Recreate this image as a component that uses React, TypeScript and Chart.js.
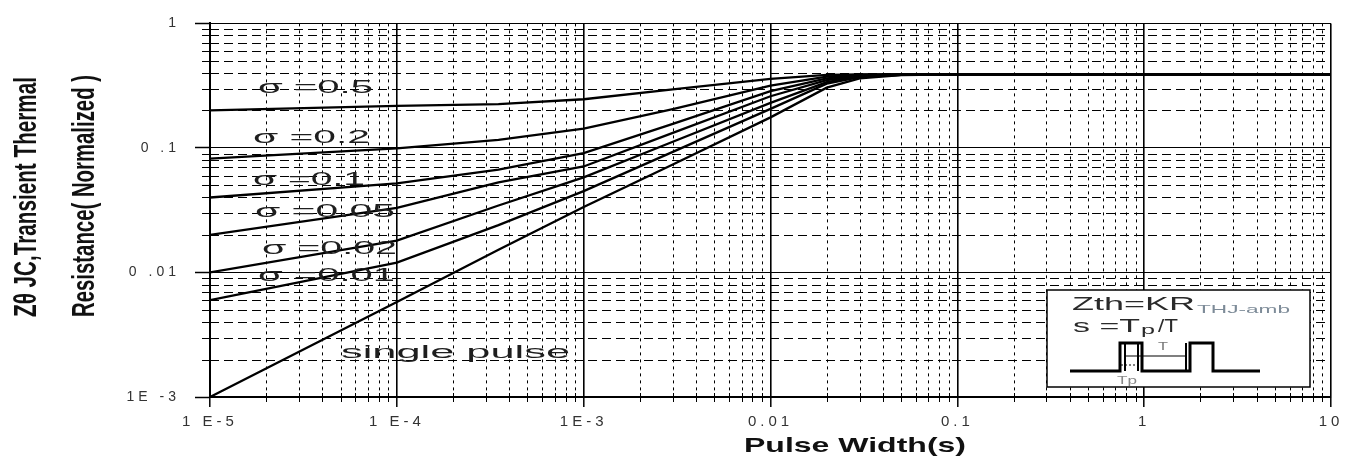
import React, { useEffect, useRef } from 'react';
import { Chart, registerables } from 'chart.js';

Chart.register(...registerables);

// ---------- data ----------
const pulseWidths = [1e-5, 1e-4, 3.5e-4, 1e-3, 3e-3, 1e-2, 2e-2, 3e-2, 5e-2, 1e-1, 1, 10];

const duty05 = [0.2, 0.218, 0.225, 0.246, 0.295, 0.358, 0.386, 0.39, 0.39, 0.39, 0.39, 0.39];
const duty02 = [0.082, 0.099, 0.116, 0.143, 0.205, 0.317, 0.374, 0.387, 0.39, 0.39, 0.39, 0.39];
const duty01 = [0.04, 0.052, 0.067, 0.091, 0.156, 0.286, 0.362, 0.383, 0.389, 0.39, 0.39, 0.39];
const duty005 = [0.02, 0.033, 0.053, 0.071, 0.132, 0.26, 0.35, 0.379, 0.388, 0.39, 0.39, 0.39];
const duty002 = [0.01, 0.018, 0.0345, 0.058, 0.112, 0.23, 0.338, 0.375, 0.387, 0.39, 0.39, 0.39];
const duty001 = [0.006, 0.012, 0.024, 0.045, 0.093, 0.206, 0.328, 0.37, 0.386, 0.39, 0.39, 0.39];
const singlePulse = [0.001, 0.0058, 0.0152, 0.0335, 0.0735, 0.176, 0.305, 0.362, 0.385, 0.39, 0.39, 0.39];

const seriesNames = ['σ =0.5', 'σ =0.2', 'σ =0.1', 'σ =0.05', 'σ =0.02', 'σ =0.01', 'single pulse'];
const seriesValues = [duty05, duty02, duty01, duty005, duty002, duty001, singlePulse];

const xTickValues = [1e-5, 1e-4, 1e-3, 1e-2, 1e-1, 1, 10];
const xTickLabels = ['1 E-5', '1 E-4', '1E-3', '0.01', '0.1', '1', '10'];
const yTickValues = [1e-3, 1e-2, 1e-1, 1];
const yTickLabels = ['1E -3', '0 .01', '0 .1', '1'];

const xTitle = 'Pulse Width(s)';
const yTitleLines = ['Zθ JC,Transient Thermal', 'Resistance( Normalized )'];

// ---------- layout of the annotation texts (pixels) ----------
const curveLabelBoxes = [
  { left: 258, cy: 88, w: 115 },
  { left: 253, cy: 138, w: 117 },
  { left: 253, cy: 180, w: 112 },
  { left: 255, cy: 212, w: 140 },
  { left: 262, cy: 249, w: 135 },
  { left: 258, cy: 276, w: 137 },
  { left: 341, cy: 353, w: 229 },
];

const FONT = '"Liberation Sans", Arial, sans-serif';

function fitText(
  ctx: CanvasRenderingContext2D,
  text: string,
  x: number,
  y: number,
  width: number,
  font: string,
  color: string,
  center = false,
  rotate = 0
) {
  ctx.save();
  ctx.letterSpacing = '0px';
  ctx.font = font;
  ctx.fillStyle = color;
  ctx.textBaseline = 'middle';
  ctx.textAlign = 'left';
  const w = ctx.measureText(text).width;
  const sx = width / w;
  ctx.translate(x, y);
  if (rotate) ctx.rotate(rotate);
  ctx.scale(sx, 1);
  ctx.fillText(text, center ? -w / 2 : 0, 0);
  ctx.restore();
}

const minorGridPlugin = {
  id: 'minorGrid',
  beforeDraw(chart: any) {
    chart.ctx.letterSpacing = '4px';
  },
  beforeDatasetsDraw(chart: any) {
    const ctx: CanvasRenderingContext2D = chart.ctx;
    const { left, right, top, bottom } = chart.chartArea;
    const xs = chart.scales.x;
    const ys = chart.scales.y;
    ctx.save();
    ctx.letterSpacing = '0px';
    ctx.strokeStyle = '#000';
    ctx.lineWidth = 1;
    // vertical minor (dotted)
    for (let e = -5; e < 1; e++) {
      for (let k = 2; k <= 9; k++) {
        const px = Math.round(xs.getPixelForValue(k * Math.pow(10, e))) + 0.5;
        ctx.setLineDash([3, 4]);
        ctx.beginPath();
        ctx.moveTo(px, top);
        ctx.lineTo(px, bottom);
        ctx.stroke();
        ctx.setLineDash([]);
        ctx.beginPath();
        ctx.moveTo(px, bottom - 4);
        ctx.lineTo(px, bottom + 5);
        ctx.stroke();
      }
    }
    // horizontal minor (dashed)
    for (let e = -3; e < 0; e++) {
      for (let k = 2; k <= 9; k++) {
        const py = Math.round(ys.getPixelForValue(k * Math.pow(10, e))) + 0.5;
        ctx.setLineDash([9, 5]);
        ctx.beginPath();
        ctx.moveTo(left, py);
        ctx.lineTo(right, py);
        ctx.stroke();
        ctx.setLineDash([]);
        ctx.beginPath();
        ctx.moveTo(left - 8, py);
        ctx.lineTo(left + 7, py);
        ctx.stroke();
      }
    }
    ctx.restore();
  },
  afterDatasetsDraw(chart: any) {
    const ctx: CanvasRenderingContext2D = chart.ctx;
    // curve labels
    seriesNames.forEach((name, i) => {
      const b = curveLabelBoxes[i];
      fitText(ctx, name, b.left, b.cy, b.w, `18px ${FONT}`, '#1e1e1e');
    });

    // legend box
    ctx.save();
    ctx.letterSpacing = '0px';
    ctx.fillStyle = '#fff';
    ctx.fillRect(1047, 290, 263, 97);
    ctx.strokeStyle = '#000';
    ctx.lineWidth = 1.5;
    ctx.strokeRect(1047, 290, 263, 97);
    ctx.restore();

    fitText(ctx, 'Zth=KR', 1072, 305, 123, `18px ${FONT}`, '#2a2a2a');
    fitText(ctx, 'THJ-amb', 1197, 310, 93, `11px ${FONT}`, '#7d8b98');
    fitText(ctx, 's =T', 1073, 327, 67, `18px ${FONT}`, '#2a2a2a');
    fitText(ctx, 'p', 1141, 331, 14, `12px ${FONT}`, '#2a2a2a');
    fitText(ctx, '/T', 1158, 327, 20, `18px ${FONT}`, '#2a2a2a');
    fitText(ctx, 'T', 1163, 347, 10, `10px ${FONT}`, '#777', true);
    fitText(ctx, 'Tp', 1127, 381, 20, `11px ${FONT}`, '#888', true);

    ctx.save();
    ctx.strokeStyle = '#000';
    ctx.lineWidth = 3;
    ctx.lineJoin = 'miter';
    ctx.beginPath();
    ctx.moveTo(1070, 371);
    ctx.lineTo(1120, 371);
    ctx.lineTo(1120, 343);
    ctx.lineTo(1142, 343);
    ctx.lineTo(1142, 371);
    ctx.lineTo(1190, 371);
    ctx.lineTo(1190, 343);
    ctx.lineTo(1213, 343);
    ctx.lineTo(1213, 371);
    ctx.lineTo(1260, 371);
    ctx.stroke();
    ctx.lineWidth = 2;
    ctx.beginPath();
    ctx.moveTo(1125, 343);
    ctx.lineTo(1125, 371);
    ctx.moveTo(1138, 343);
    ctx.lineTo(1138, 371);
    ctx.moveTo(1186, 343);
    ctx.lineTo(1186, 371);
    ctx.stroke();
    ctx.lineWidth = 1.2;
    ctx.beginPath();
    ctx.moveTo(1125, 356);
    ctx.lineTo(1186, 356);
    ctx.stroke();
    ctx.setLineDash([2, 2]);
    ctx.beginPath();
    ctx.moveTo(1121, 365);
    ctx.lineTo(1141, 365);
    ctx.stroke();
    ctx.restore();
  },
  afterDraw(chart: any) {
    const ctx: CanvasRenderingContext2D = chart.ctx;
    ctx.letterSpacing = '0px';
    fitText(ctx, yTitleLines[0], 27, 197, 240, `bold 32px ${FONT}`, '#111', true, -Math.PI / 2);
    fitText(ctx, yTitleLines[1], 85, 196, 242, `bold 32px ${FONT}`, '#111', true, -Math.PI / 2);
    fitText(ctx, xTitle, 855, 446, 222, `bold 21px ${FONT}`, '#111', true);
  },
};

export default function App() {
  const canvasRef = useRef<HTMLCanvasElement>(null);

  useEffect(() => {
    const canvas = canvasRef.current;
    if (!canvas) return;
    const datasets = seriesNames.map((name, i) => ({
      label: name,
      data: pulseWidths.map((x, j) => ({ x, y: seriesValues[i][j] })),
      borderColor: '#000',
      backgroundColor: '#000',
      borderWidth: 2.3,
      pointRadius: 0,
      tension: 0,
      fill: false,
    }));

    const chart = new Chart(canvas, {
      type: 'line',
      data: { datasets },
      options: {
        animation: false,
        responsive: false,
        devicePixelRatio: 1,
        layout: { padding: { left: 0, right: 23, top: 16, bottom: 0 } },
        plugins: {
          legend: { display: false },
          tooltip: { enabled: false },
          title: { display: false },
        },
        scales: {
          x: {
            type: 'logarithmic',
            min: 1e-5,
            max: 10,
            afterBuildTicks: (scale: any) => {
              scale.ticks = xTickValues.map((v) => ({ value: v, major: true }));
            },
            afterFit: (scale: any) => {
              scale.height = 62;
            },
            ticks: {
              autoSkip: false,
              maxRotation: 0,
              padding: 6,
              color: '#333',
              font: { family: FONT, size: 15 },
              callback: (value: any) => {
                const i = xTickValues.findIndex((v) => Math.abs(Math.log10(v) - Math.log10(Number(value))) < 1e-6);
                return i >= 0 ? xTickLabels[i] : '';
              },
            },
            grid: {
              color: '#000',
              lineWidth: 1.6,
              drawTicks: true,
              tickLength: 10,
              tickColor: '#000',
              tickWidth: 1.5,
            },
            border: { display: true, color: '#000', width: 2 },
          },
          y: {
            type: 'logarithmic',
            min: 1e-3,
            max: 1,
            afterBuildTicks: (scale: any) => {
              scale.ticks = yTickValues.map((v) => ({ value: v, major: true }));
            },
            afterFit: (scale: any) => {
              scale.width = 210;
            },
            ticks: {
              autoSkip: false,
              padding: 15,
              color: '#333',
              font: { family: FONT, size: 14 },
              callback: (value: any) => {
                const i = yTickValues.findIndex((v) => Math.abs(Math.log10(v) - Math.log10(Number(value))) < 1e-6);
                return i >= 0 ? yTickLabels[i] : '';
              },
            },
            grid: {
              color: '#000',
              lineWidth: 1,
              drawTicks: true,
              tickLength: 15,
              tickColor: '#000',
              tickWidth: 1.5,
            },
            border: { display: true, color: '#000', width: 2 },
          },
        },
      },
      plugins: [minorGridPlugin],
    });

    return () => chart.destroy();
  }, []);

  return (
    <div style={{ position: 'absolute', left: 0, top: 0, width: 1354, height: 459, background: '#fff' }}>
      <canvas ref={canvasRef} width={1354} height={459} style={{ display: 'block' }} />
    </div>
  );
}
